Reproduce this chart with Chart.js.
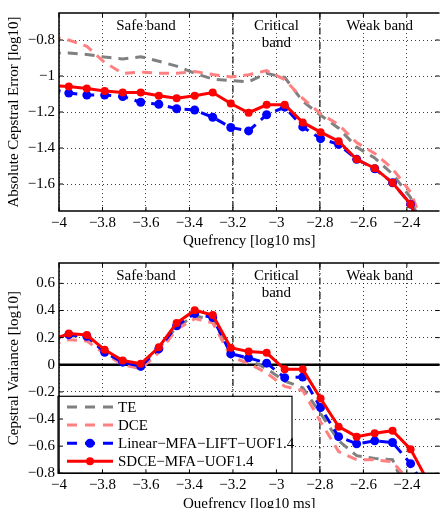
<!DOCTYPE html>
<html>
<head>
<meta charset="utf-8">
<script src="https://cdn.jsdelivr.net/npm/chart.js@4/dist/chart.umd.min.js"></script>
<style>
  body { margin: 0; background: #fff; }
  canvas { display: block; }
</style>
</head>
<body>
<canvas id="errChart" width="444" height="250"></canvas>
<canvas id="varChart" width="444" height="258"></canvas>
<script>
// quefrency bins [log10 ms]; first and last fall outside the axes and get clipped
const quefrency = [-4.038, -3.955, -3.872, -3.790, -3.707, -3.624, -3.541, -3.459, -3.376, -3.293, -3.210,
                   -3.128, -3.045, -2.962, -2.879, -2.797, -2.714, -2.631, -2.548, -2.466, -2.383, -2.300];

// absolute cepstral error [log10]
const teErr   = [-0.872, -0.872, -0.880, -0.895, -0.905, -0.893, -0.918, -0.945, -0.985, -1.017, -1.025,
                 -1.032, -0.985, -1.008, -1.140, -1.218, -1.290, -1.395, -1.455, -1.545, -1.675, -1.950];
const dceErr  = [-0.780, -0.800, -0.835, -0.925, -0.985, -0.978, -0.985, -0.985, -0.975, -0.992, -1.005,
                 -0.993, -0.970, -1.020, -1.125, -1.210, -1.270, -1.370, -1.430, -1.515, -1.645, -1.900];
const linErr  = [-1.073, -1.095, -1.106, -1.106, -1.114, -1.146, -1.157, -1.182, -1.189, -1.229, -1.286,
                 -1.305, -1.215, -1.173, -1.283, -1.348, -1.380, -1.463, -1.515, -1.593, -1.712, -1.950];
const sdceErr = [-1.053, -1.059, -1.070, -1.083, -1.092, -1.092, -1.110, -1.124, -1.110, -1.092, -1.153,
                 -1.204, -1.160, -1.160, -1.258, -1.312, -1.362, -1.463, -1.512, -1.593, -1.712, -1.950];

// cepstral variance [log10]
const teVar   = [0.190, 0.215, 0.205, 0.100, 0.025, 0.000, 0.120, 0.280, 0.360, 0.335, 0.090,
                 0.040, -0.030, -0.120, -0.170, -0.360, -0.560, -0.670, -0.690, -0.700, -1.000, -1.100];
const dceVar  = [0.145, 0.185, 0.175, 0.080, 0.000, -0.030, 0.090, 0.260, 0.340, 0.310, 0.060,
                 0.010, -0.060, -0.160, -0.190, -0.420, -0.640, -0.700, -0.700, -0.715, -0.870, -1.000];
const linVar  = [0.190, 0.222, 0.210, 0.092, 0.019, -0.012, 0.117, 0.287, 0.377, 0.348, 0.080,
                 0.051, 0.012, -0.095, -0.091, -0.315, -0.530, -0.583, -0.561, -0.573, -0.729, -0.950];
const sdceVar = [0.178, 0.231, 0.219, 0.110, 0.031, 0.007, 0.129, 0.307, 0.402, 0.366, 0.126,
                 0.097, 0.088, -0.034, -0.034, -0.249, -0.456, -0.530, -0.505, -0.486, -0.622, -0.870];

const seriesNames = ['TE', 'DCE', 'Linear\u2212MFA\u2212LIFT\u2212UOF1.4', 'SDCE\u2212MFA\u2212UOF1.4'];

const xTicks = [-4, -3.8, -3.6, -3.4, -3.2, -3, -2.8, -2.6, -2.4];
const errTicks = [-1.6, -1.4, -1.2, -1, -0.8];
const varTicks = [-0.8, -0.6, -0.4, -0.2, 0, 0.2, 0.4, 0.6];

const bandEdges = [-3.2, -2.8];
const bandLabels = [['Safe band'], ['Critical', 'band'], ['Weak band']];

const FONT = '"Liberation Serif", "Times New Roman", serif';
Chart.defaults.font.family = FONT;
Chart.defaults.font.size = 15;
Chart.defaults.color = '#000';

const minus = v => String(v).replace('-', '\u2212');
const pts = ys => quefrency.map((q, i) => ({ x: q, y: ys[i] }));

function makeSets(te, dce, lin, sdce) {
    return [
        { label: seriesNames[0], data: pts(te), borderColor: '#808080', borderWidth: 3,
          borderDash: [10, 7], pointRadius: 0, order: 4 },
        { label: seriesNames[1], data: pts(dce), borderColor: '#ff8080', borderWidth: 3,
          borderDash: [10, 7], pointRadius: 0, order: 3 },
        { label: seriesNames[2], data: pts(lin), borderColor: '#0000ff', borderWidth: 3,
          borderDash: [10, 7], pointRadius: 4.5, pointBackgroundColor: '#0000ff',
          pointBorderWidth: 0, order: 2 },
        { label: seriesNames[3], data: pts(sdce), borderColor: '#ff0000', borderWidth: 3,
          pointRadius: 4, pointBackgroundColor: '#ff0000', pointBorderWidth: 0, order: 1 }
    ];
}

// band separators, band names and the zero line
const bands = {
    id: 'bands',
    beforeDatasetsDraw(chart, args, opts) {
        const { ctx, chartArea: a, scales: { x, y } } = chart;
        ctx.save();
        ctx.strokeStyle = '#222';
        ctx.lineWidth = 1.3;
        ctx.setLineDash([7, 3, 1.5, 3]);
        bandEdges.forEach(v => {
            const px = x.getPixelForValue(v);
            ctx.beginPath(); ctx.moveTo(px, a.top); ctx.lineTo(px, a.bottom); ctx.stroke();
        });
        ctx.setLineDash([]);
        if (opts.zero) {
            const py = y.getPixelForValue(0);
            ctx.strokeStyle = '#000';
            ctx.lineWidth = 2.5;
            ctx.beginPath(); ctx.moveTo(a.left, py); ctx.lineTo(a.right, py); ctx.stroke();
        }
        ctx.fillStyle = '#000';
        ctx.font = '15px ' + FONT;
        ctx.textAlign = 'center';
        ctx.textBaseline = 'middle';
        bandLabels.forEach((lines, i) => {
            const lo = i > 0 ? bandEdges[i - 1] : x.min;
            const hi = i < bandEdges.length ? bandEdges[i] : x.max;
            const cx = x.getPixelForValue((lo + hi) / 2);
            lines.forEach((t, j) => ctx.fillText(t, cx, a.top + opts.labelTop + j * 17));
        });
        ctx.restore();
    },
    afterDraw(chart) {
        const { ctx, chartArea: a, scales: { x, y } } = chart;
        ctx.save();
        ctx.strokeStyle = '#000';
        ctx.lineWidth = 1.5;
        ctx.beginPath();
        ctx.moveTo(a.right, a.top); ctx.lineTo(a.left, a.top);
        ctx.lineTo(a.left, a.bottom); ctx.lineTo(a.right, a.bottom);
        ctx.stroke();
        ctx.lineWidth = 1;
        ctx.beginPath();
        xTicks.forEach(v => {
            const px = x.getPixelForValue(v);
            ctx.moveTo(px, a.bottom); ctx.lineTo(px, a.bottom - 4);
            ctx.moveTo(px, a.top); ctx.lineTo(px, a.top + 4);
        });
        y.ticks.forEach(t => {
            const py = y.getPixelForValue(t.value);
            ctx.moveTo(a.left, py); ctx.lineTo(a.left + 4, py);
            ctx.moveTo(a.right, py); ctx.lineTo(a.right - 4, py);
        });
        ctx.stroke();
        ctx.restore();
    }
};

// legend box sitting in the lower left corner of the plot
const boxLegend = {
    id: 'boxLegend',
    afterDatasetsDraw(chart, args, opts) {
        if (!opts.show) return;
        const { ctx, chartArea: a } = chart;
        const w = 234, h = 77;
        const x0 = a.left - 1, y0 = a.bottom - h;
        ctx.save();
        ctx.fillStyle = '#fff';
        ctx.fillRect(x0, y0, w, h);
        ctx.strokeStyle = '#000';
        ctx.lineWidth = 1.2;
        ctx.strokeRect(x0, y0, w, h);
        ctx.font = '15px ' + FONT;
        ctx.textAlign = 'left';
        ctx.textBaseline = 'middle';
        chart.data.datasets.forEach((ds, i) => {
            const cy = y0 + 10.7 + i * 18.1;
            ctx.strokeStyle = ds.borderColor;
            ctx.lineWidth = ds.borderWidth;
            ctx.setLineDash(ds.borderDash ? [10, 8] : []);
            ctx.beginPath(); ctx.moveTo(x0 + 9, cy); ctx.lineTo(x0 + 55, cy); ctx.stroke();
            ctx.setLineDash([]);
            if (ds.pointRadius > 0) {
                ctx.fillStyle = ds.pointBackgroundColor;
                ctx.beginPath(); ctx.arc(x0 + 32, cy, ds.pointRadius, 0, Math.PI * 2); ctx.fill();
            }
            ctx.fillStyle = '#000';
            ctx.fillText(ds.label, x0 + 60, cy + 1);
        });
        ctx.restore();
    }
};

function makeChart(id, sets, yTicks, yMin, yMax, yTitle, top, xHeight, xTitlePad, showLegend) {
    return new Chart(document.getElementById(id), {
        type: 'line',
        data: { datasets: sets },
        plugins: [bands, boxLegend],
        options: {
            responsive: false,
            animation: false,
            layout: { padding: { top: top, right: 0, bottom: 0, left: 0 } },
            elements: { line: { tension: 0 } },
            plugins: {
                legend: { display: false },
                tooltip: { enabled: false },
                bands: { zero: showLegend, labelTop: 13 },
                boxLegend: { show: showLegend }
            },
            scales: {
                x: {
                    type: 'linear', min: -4, max: -2.25,
                    afterBuildTicks: s => { s.ticks = xTicks.map(v => ({ value: v })); },
                    afterFit: s => { s.height = xHeight; },
                    ticks: { padding: 3, callback: minus, font: { size: 15 } },
                    grid: { color: 'rgba(0,0,0,0.75)', lineWidth: 1, drawTicks: false },
                    border: { display: false, dash: [1, 3] },
                    title: { display: true, text: 'Quefrency [log10 ms]', font: { size: 15, lineHeight: 1 },
                             padding: { top: 0, bottom: xTitlePad } }
                },
                y: {
                    min: yMin, max: yMax,
                    afterBuildTicks: s => { s.ticks = yTicks.map(v => ({ value: v })); },
                    afterFit: s => { s.width = 59; },
                    ticks: { padding: 4, callback: minus, font: { size: 15 } },
                    grid: { color: 'rgba(0,0,0,0.75)', lineWidth: 1, drawTicks: false },
                    border: { display: false, dash: [1, 3] },
                    title: { display: true, text: yTitle, font: { size: 15, lineHeight: 1 },
                             padding: { top: 7, bottom: 0 } }
                }
            }
        }
    });
}

makeChart('errChart', makeSets(teErr, dceErr, linErr, sdceErr), errTicks, -1.75, -0.65,
          'Absolute Cepstral Error [log10]', 8, 39, 1.5, false);
makeChart('varChart', makeSets(teVar, dceVar, linVar, sdceVar), varTicks, -0.8, 0.75,
          'Cepstral Variance [log10]', 11.7, 34.7, -3.5, true);
</script>
</body>
</html>
